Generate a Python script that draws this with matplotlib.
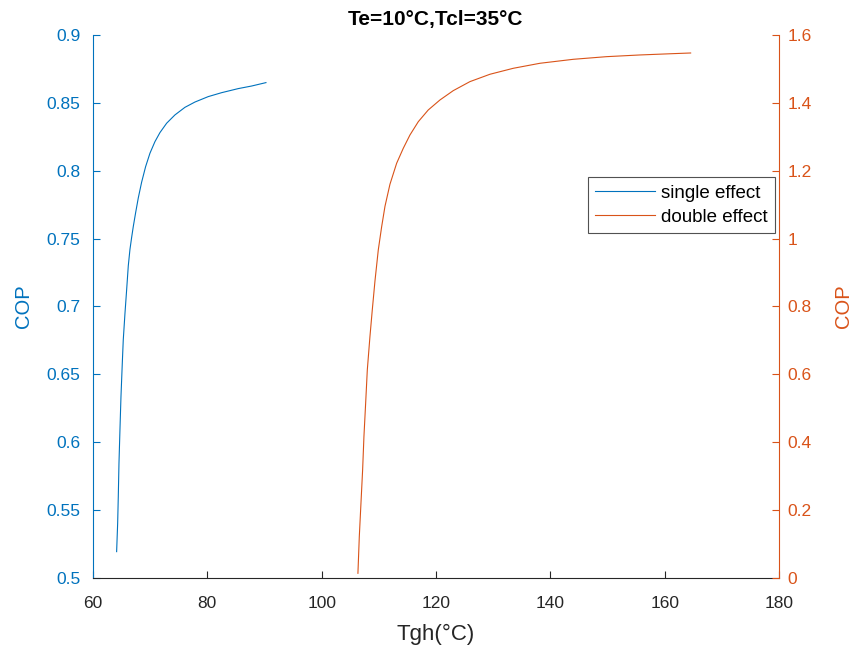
import matplotlib
matplotlib.use("Agg")
import matplotlib.pyplot as plt

plt.rcParams['font.family'] = ['Liberation Sans', 'DejaVu Sans']

# Single effect (left axis)
tgh_single = [64.14, 64.32, 64.43, 64.55, 64.72, 64.90, 65.13, 65.30, 65.60, 65.89, 66.18, 66.47,
              66.77, 67.05, 67.46, 67.93, 68.51, 69.21, 69.97, 70.84, 71.72, 72.89, 74.34, 76.09,
              77.84, 80.17, 82.51, 85.42, 87.76, 90.26]
cop_single = [0.5194, 0.5403, 0.5599, 0.5845, 0.6090, 0.6336, 0.6582, 0.6753, 0.6950, 0.7122, 0.7300, 0.7420,
              0.7510, 0.7588, 0.7690, 0.7800, 0.7915, 0.8030, 0.8129, 0.8214, 0.8281, 0.8350, 0.8411, 0.8467,
              0.8506, 0.8546, 0.8575, 0.8605, 0.8624, 0.8649]

# Double effect (right axis)
tgh_double = [106.35, 106.59, 106.88, 107.17, 107.40, 107.70, 107.99, 108.45, 108.86, 109.33, 109.91, 110.50,
              111.08, 111.95, 113.12, 114.28, 115.45, 116.91, 118.65, 120.70, 123.03, 125.94, 129.44, 133.52,
              138.19, 144.02, 149.85, 155.68, 161.51, 164.55]
cop_double = [0.0138, 0.1217, 0.2201, 0.3182, 0.4164, 0.5148, 0.6129, 0.7110, 0.7897, 0.8750, 0.9665, 1.0350,
              1.0950, 1.1600, 1.2219, 1.2660, 1.3053, 1.3445, 1.3790, 1.4085, 1.4360, 1.4625, 1.4842, 1.5018,
              1.5166, 1.5283, 1.5361, 1.5411, 1.5450, 1.5469]

xticks = [60, 80, 100, 120, 140, 160, 180]
yticks_left = [0.5, 0.55, 0.6, 0.65, 0.7, 0.75, 0.8, 0.85, 0.9]
yticks_right = [0, 0.2, 0.4, 0.6, 0.8, 1, 1.2, 1.4, 1.6]

blue = '#0072BD'
orange = '#D95319'
dark = '#262626'

fig = plt.figure(figsize=(8.56, 6.5), dpi=100)
ax = fig.add_axes([0.1086, 0.1108, 0.8014, 0.8354])
ax2 = ax.twinx()

l1, = ax.plot(tgh_single, cop_single, color=blue, lw=0.8, label='single effect')
l2, = ax2.plot(tgh_double, cop_double, color=orange, lw=0.8, label='double effect')

ax.set_xlim(60, 180)
ax.set_ylim(0.5, 0.9)
ax2.set_ylim(0, 1.6)
ax.set_xticks(xticks)
ax.set_xticklabels([str(t) for t in xticks])
ax.set_yticks(yticks_left)
ax.set_yticklabels([f'{t:g}' for t in yticks_left])
ax2.set_yticks(yticks_right)
ax2.set_yticklabels([f'{t:g}' for t in yticks_right])

fs = 12.5
ax.tick_params(axis='x', direction='in', colors=dark, labelsize=fs, length=5, width=0.8, pad=13)
ax.tick_params(axis='y', direction='in', colors=blue, labelsize=fs, length=5, width=0.8, pad=9)
ax2.tick_params(axis='y', direction='in', colors=orange, labelsize=fs, length=5, width=0.8, pad=6)

for a in (ax, ax2):
    a.spines['top'].set_visible(False)
ax.spines['right'].set_visible(False)
ax2.spines['left'].set_visible(False)
ax2.spines['bottom'].set_visible(False)
ax.spines['left'].set_color(blue)
ax2.spines['right'].set_color(orange)
ax.spines['bottom'].set_color(dark)
for s in ('left', 'bottom'):
    ax.spines[s].set_linewidth(0.8)
ax2.spines['right'].set_linewidth(0.8)

ax.set_xlabel('Tgh(°C)', fontsize=16, color=dark, labelpad=9)
ax.set_ylabel('COP', fontsize=14.5, color=blue, labelpad=10)
ax2.set_ylabel('COP', fontsize=14.5, color=orange, labelpad=16)
ax.set_title('Te=10°C,Tcl=35°C', fontsize=15, fontweight='bold', color='black', pad=7)

leg = ax2.legend(handles=[l1, l2], loc='upper right', bbox_to_anchor=(0.994, 0.738),
                 fontsize=13.5, frameon=True, fancybox=False, borderaxespad=0,
                 handlelength=3.2, handletextpad=0.3, borderpad=0.4, labelspacing=0.35)
leg.get_frame().set_edgecolor(dark)
leg.get_frame().set_linewidth(0.8)

fig.savefig('out.png', dpi=100)
